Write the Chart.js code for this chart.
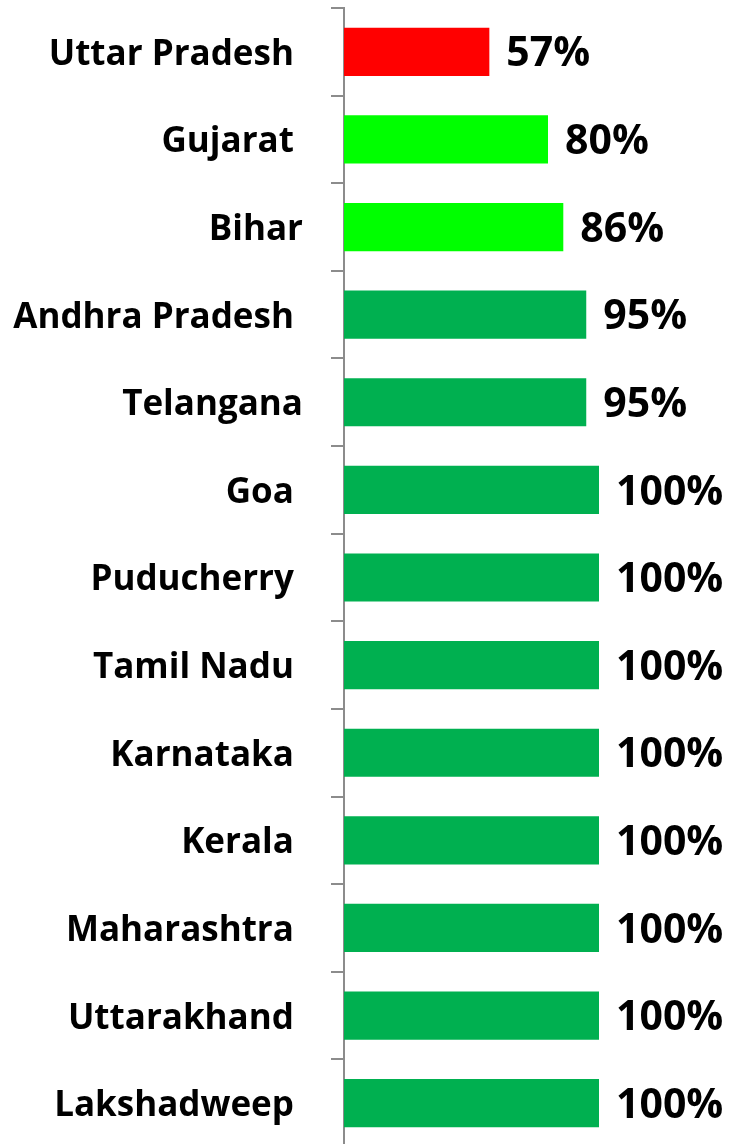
<!DOCTYPE html>
<html>
<head>
<meta charset="utf-8">
<script src="https://cdn.jsdelivr.net/npm/chart.js@4/dist/chart.umd.min.js"></script>
<style>
  html, body { margin: 0; padding: 0; background: #fff; overflow: hidden; }
  #wrap { position: relative; width: 729px; height: 1147px; }
</style>
</head>
<body>
<div id="wrap"><canvas id="state-chart"></canvas></div>
<script>
// categories (trailing spaces kept as in the source labels)
const states = [
  'Uttar Pradesh ',
  'Gujarat ',
  'Bihar',
  'Andhra Pradesh ',
  'Telangana',
  'Goa ',
  'Puducherry ',
  'Tamil Nadu ',
  'Karnataka ',
  'Kerala ',
  'Maharashtra ',
  'Uttarakhand ',
  'Lakshadweep ',
];
const percentValues = [57, 80, 86, 95, 95, 100, 100, 100, 100, 100, 100, 100, 100];
const barColors = [
  '#FF0000', '#00FF00', '#00FF00', '#00B050', '#00B050', '#00B050', '#00B050',
  '#00B050', '#00B050', '#00B050', '#00B050', '#00B050', '#00B050',
];

const FONT = '"Open Sans", Lato, sans-serif';

const valueLabels = {
  id: 'valueLabels',
  afterDatasetsDraw(chart) {
    const ctx = chart.ctx;
    const meta = chart.getDatasetMeta(0);
    ctx.save();
    ctx.font = 'bold 41px ' + FONT;
    ctx.fillStyle = '#000';
    ctx.textAlign = 'left';
    ctx.textBaseline = 'middle';
    meta.data.forEach((bar, i) => {
      ctx.fillText(percentValues[i] + '%', bar.x + 17, bar.y + 3);
    });
    ctx.restore();
  },
};

new Chart(document.getElementById('state-chart'), {
  type: 'bar',
  data: {
    labels: states,
    datasets: [
      {
        data: percentValues,
        backgroundColor: barColors,
        borderWidth: 0,
        barPercentage: 0.55,
        categoryPercentage: 1,
      },
    ],
  },
  options: {
    indexAxis: 'y',
    responsive: true,
    maintainAspectRatio: false,
    animation: false,
    layout: { padding: { top: 8, right: 130, bottom: 0, left: 0 } },
    plugins: {
      legend: { display: false },
      tooltip: { enabled: false },
    },
    scales: {
      x: {
        display: false,
        min: 0,
        max: 100,
      },
      y: {
        afterFit(scale) {
          scale.width = 344;
          scale.paddingTop = 0;
          scale.paddingBottom = 0;
        },
        border: { display: true, color: '#8c8c8c', width: 2 },
        grid: {
          offset: true,
          drawOnChartArea: false,
          drawTicks: true,
          tickLength: 13,
          color: '#8c8c8c',
          lineWidth: 2,
        },
        ticks: {
          color: '#000',
          padding: 28,
          labelOffset: 3,
          font: { family: FONT, size: 35, weight: 'bold' },
        },
      },
    },
  },
  plugins: [valueLabels],
});
</script>
</body>
</html>
